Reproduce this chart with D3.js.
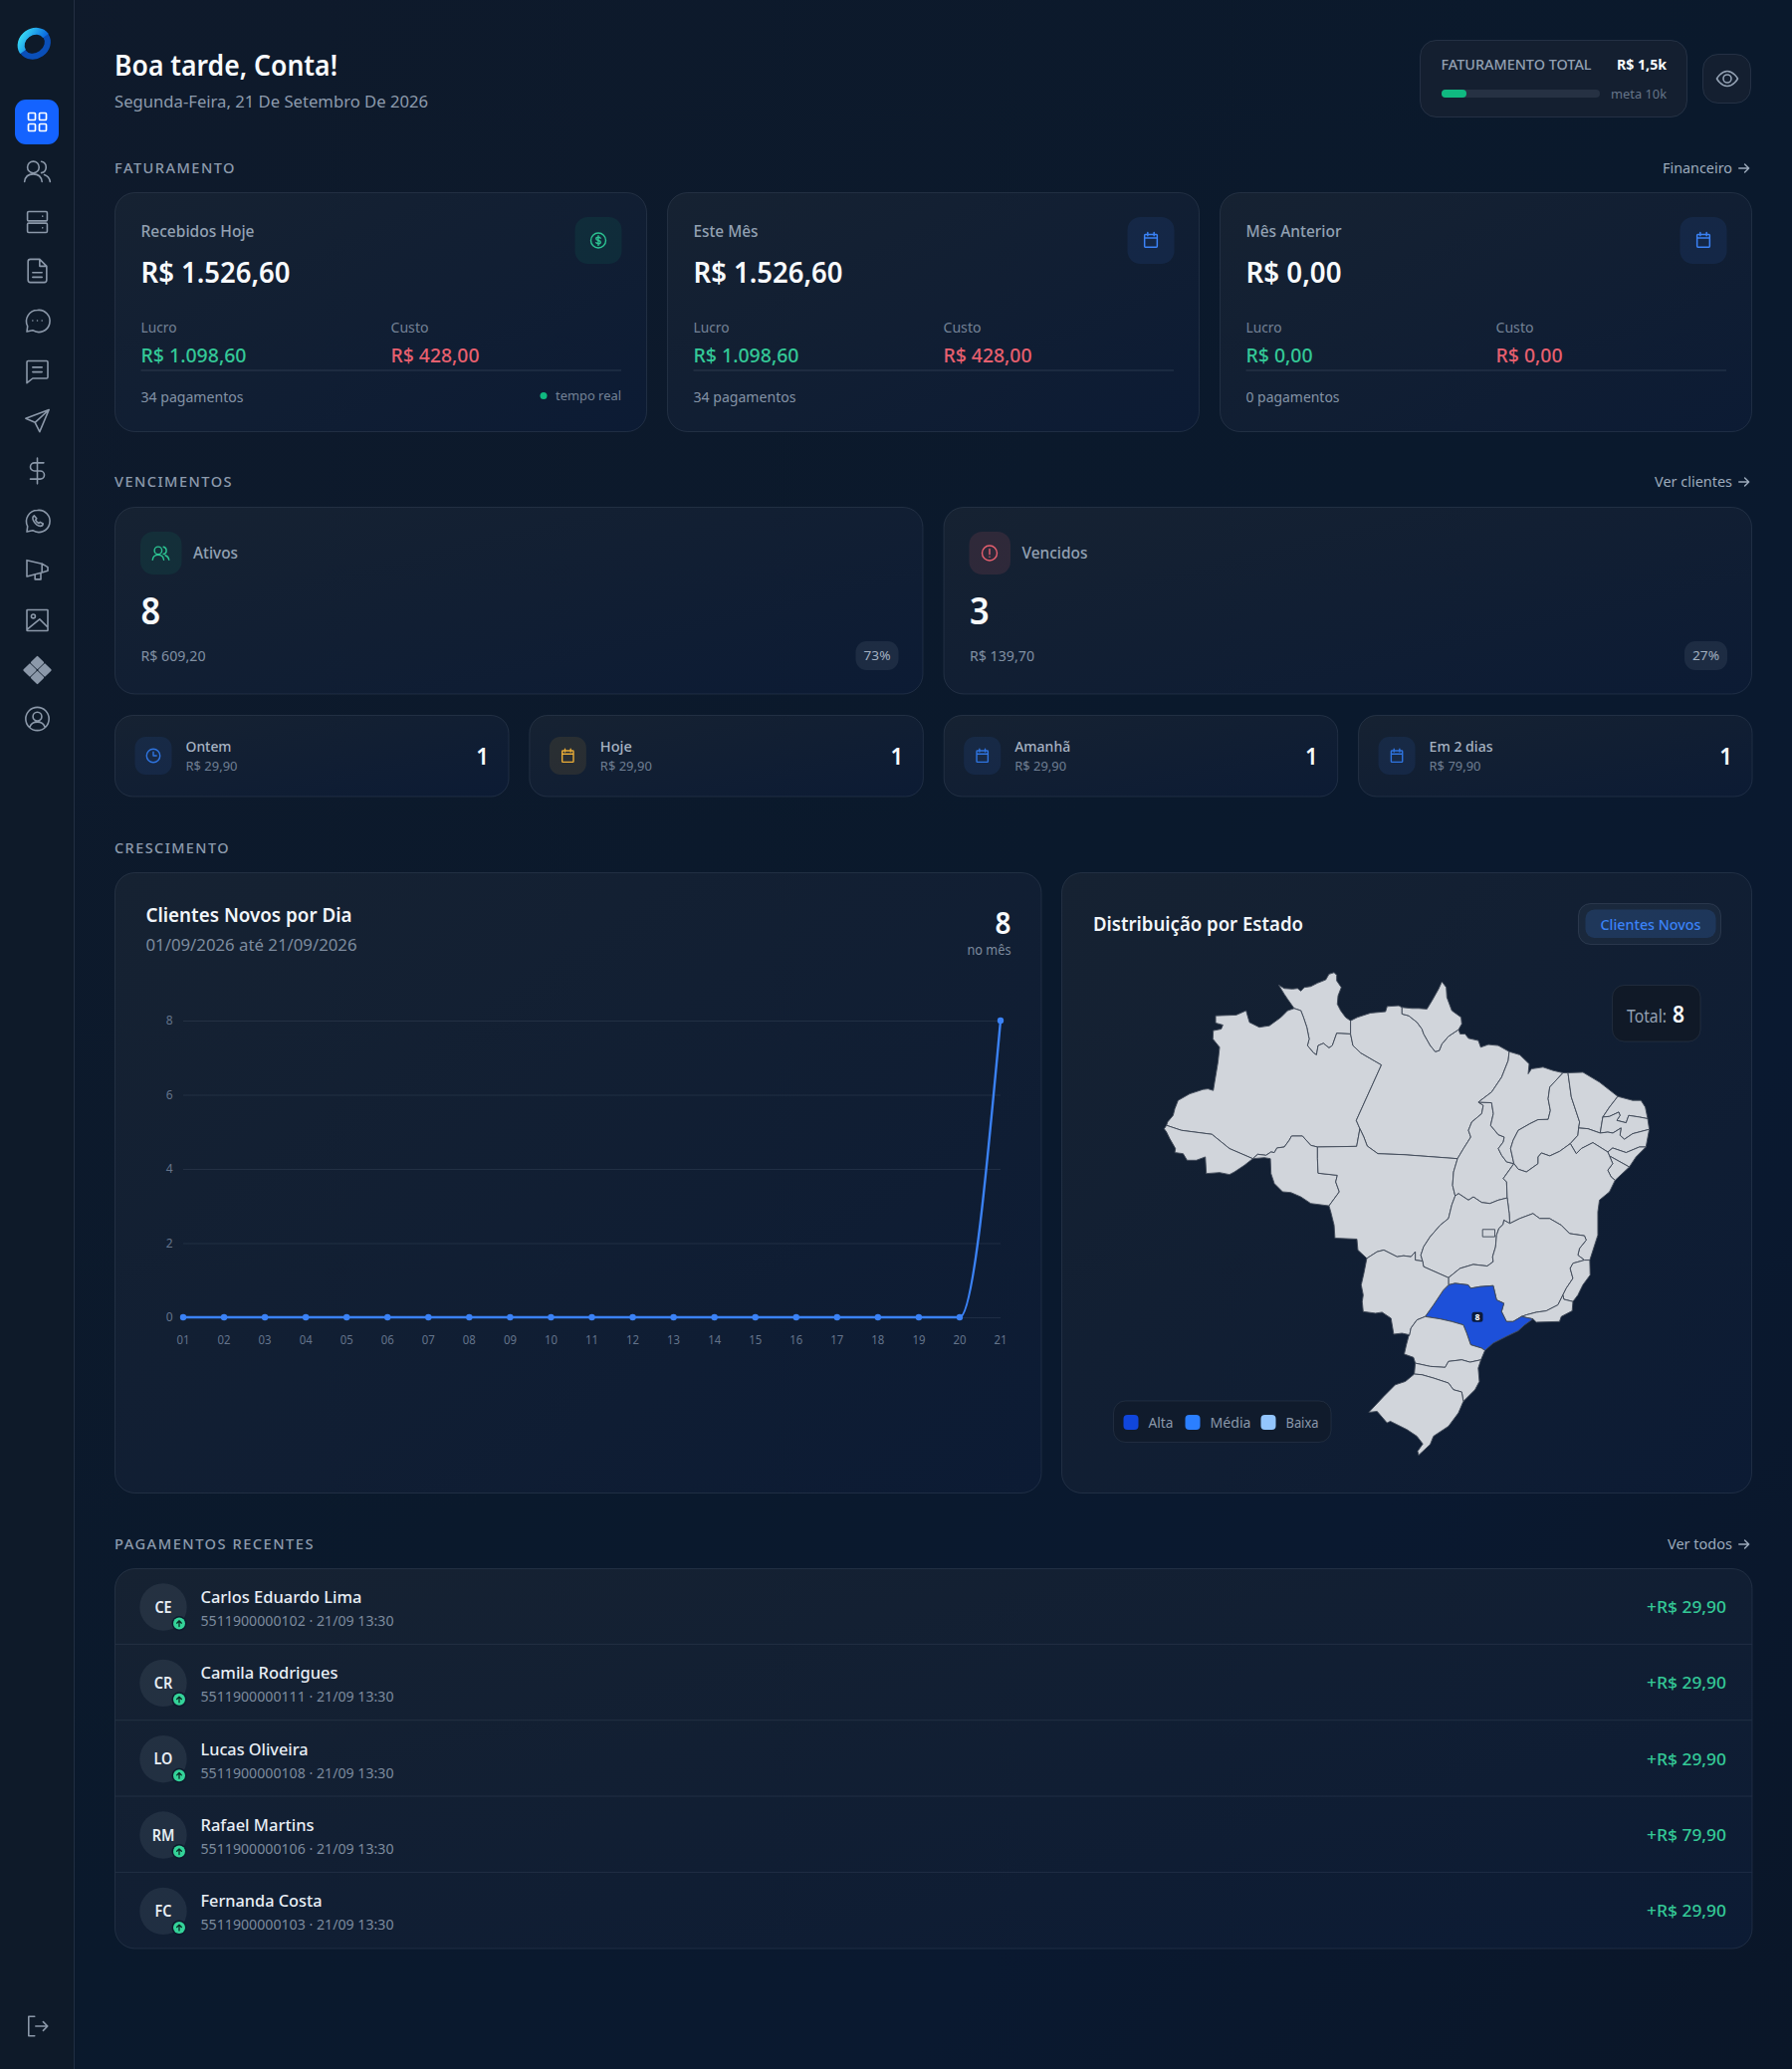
<!DOCTYPE html>
<html lang="pt-BR">
<head>
<meta charset="utf-8">
<title>Dashboard</title>
<script src="https://cdn.jsdelivr.net/npm/d3@7"></script>
<style>
  html, body { margin: 0; padding: 0; background: #0b182b; }
  svg { display: block; }
  text { font-family: "Noto Sans", "Open Sans", sans-serif; }
</style>
</head>
<body>
<svg id="canvas" width="1800" height="2078"></svg>
<script>
// ---- chart data ----
const days = ['01','02','03','04','05','06','07','08','09','10','11','12','13','14','15','16','17','18','19','20','21'];
const newClients = [0,0,0,0,0,0,0,0,0,0,0,0,0,0,0,0,0,0,0,0,8];
const yTicks = [0,2,4,6,8];

const stateClients = {SP: 8};
const legendLabels = ['Alta','Média','Baixa'];
const legendColors = ['#1046dc','#2b7fff','#93c5fd'];

const revenueTitles = ['Recebidos Hoje','Este Mês','Mês Anterior'];
const revenueTotals = ['R$ 1.526,60','R$ 1.526,60','R$ 0,00'];
const revenueProfit = ['R$ 1.098,60','R$ 1.098,60','R$ 0,00'];
const revenueCost = ['R$ 428,00','R$ 428,00','R$ 0,00'];
const revenueCounts = ['34 pagamentos','34 pagamentos','0 pagamentos'];

const dueNames = ['Ontem','Hoje','Amanhã','Em 2 dias'];
const dueValues = ['R$ 29,90','R$ 29,90','R$ 29,90','R$ 79,90'];
const dueCounts = [1,1,1,1];

const payNames = ['Carlos Eduardo Lima','Camila Rodrigues','Lucas Oliveira','Rafael Martins','Fernanda Costa'];
const payInitials = ['CE','CR','LO','RM','FC'];
const payPhones = ['5511900000102','5511900000111','5511900000108','5511900000106','5511900000103'];
const payAmounts = ['+R$ 29,90','+R$ 29,90','+R$ 29,90','+R$ 79,90','+R$ 29,90'];

// state borders as shared arcs, [lon, lat]
const arcs = {
  rrNorth: [[-64.73,4.23],[-64.28,3.96],[-63.61,3.91],[-63.21,3.96],[-62.94,3.75],[-62.67,4.04],[-62.14,4.12],[-61.6,4.39],[-60.93,4.66],[-60.67,5.11],[-60.26,5.24],[-60.05,5.03],[-60.05,4.58],[-59.68,4.04],[-59.94,3.37],[-60,2.7],[-59.73,2.17],[-59.33,1.63],[-58.93,1.36]],
  rrPa: [[-58.93,1.36],[-58.93,0.29]],
  rrAm: [[-58.93,0.29],[-60.05,0.35],[-60.4,-0.64],[-60.67,-0.83],[-61.12,-0.46],[-61.55,-0.64],[-61.68,-1.39],[-61.92,-1.23],[-62.41,-0.64],[-62.27,-0.11],[-62.46,0.83],[-62.73,1.63],[-62.94,2.17],[-63.48,2.35]],
  rrWest: [[-63.48,2.35],[-64.01,3.1],[-64.28,3.5],[-64.73,4.23]],
  amNorth: [[-63.48,2.35],[-64.01,2.17],[-64.55,1.63],[-65.48,0.96],[-66.29,0.83],[-66.69,1.03],[-67.09,1.23],[-67.36,2.17],[-68.16,1.82],[-69.82,1.76],[-69.82,1.18],[-69.23,1.01],[-69.37,0.69],[-70.01,0.56],[-70.04,-0.11],[-69.5,-0.78],[-69.63,-1.98],[-69.9,-3.59],[-70.01,-4.26],[-70.44,-4.13],[-70.84,-4.18],[-71.91,-4.53],[-72.85,-5.06],[-73.11,-5.73],[-73.25,-6.27],[-73.7,-6.8],[-73.78,-7.07]],
  amAc: [[-73.78,-7.07],[-72.58,-7.47],[-70.12,-7.79],[-68.7,-8.94],[-66.82,-9.75]],
  amRo: [[-66.82,-9.75],[-66.42,-9.4],[-65.75,-9.48],[-65.35,-9.21],[-65.08,-9.26],[-64.87,-8.89],[-64.28,-8.81],[-63.88,-8.27],[-63.69,-7.93],[-62.81,-7.93],[-62.14,-8.68],[-61.6,-8.81]],
  amMt: [[-61.6,-8.81],[-58.44,-8.76],[-58.18,-7.34]],
  amPa: [[-58.18,-7.34],[-58.47,-6.67],[-56.44,-2.2],[-57.05,-1.85],[-58.12,-1.23],[-58.74,-0.64],[-58.93,0.29]],
  acSouth: [[-66.82,-9.75],[-67.49,-10.28],[-68.3,-10.82],[-68.7,-11.03],[-69.5,-10.87],[-70.57,-10.95],[-70.65,-9.61],[-71.37,-9.88],[-72.12,-9.88],[-72.44,-9.35],[-73.11,-9.26],[-73.06,-8.94],[-73.52,-8.14],[-73.78,-7.61],[-73.97,-7.34],[-73.78,-7.07]],
  roSouth: [[-66.82,-9.75],[-65.89,-9.67],[-65.4,-9.75],[-65.35,-10.95],[-65.08,-11.75],[-64.41,-12.42],[-63.74,-12.48],[-62.94,-12.83],[-62.14,-13.36],[-60.67,-13.55]],
  roMt: [[-60.67,-13.55],[-59.84,-12.42],[-60.13,-11.62],[-60,-11.09],[-61.55,-10.92],[-61.6,-9.75],[-61.6,-8.81]],
  mtPa: [[-58.18,-7.34],[-57.86,-8.01],[-57.59,-8.73],[-56.73,-9.35],[-54.64,-9.43],[-50.3,-9.75]],
  mtTo: [[-50.3,-9.75],[-50.62,-10.82],[-50.7,-11.89],[-50.49,-12.75]],
  mtGo: [[-50.49,-12.75],[-50.77,-13.5],[-51.03,-14.57],[-51.7,-15.11],[-52.51,-16.04],[-53.04,-16.85],[-53.26,-17.52],[-53.12,-18]],
  mtWest: [[-60.67,-13.55],[-60.53,-14.03],[-60.26,-15.1],[-60.19,-16.15],[-58.42,-16.23],[-58.34,-17.11],[-57.62,-17.78]],
  mtMs: [[-57.62,-17.78],[-56.79,-17.25],[-56.25,-17.11],[-55.18,-17.65],[-54.65,-17.57],[-54.06,-17.65],[-53.71,-17.25],[-53.71,-17.92],[-53.12,-18]],
  msGo: [[-53.12,-18],[-53.04,-18.45],[-51.03,-19.34]],
  msMg: [[-51.03,-19.34],[-51.03,-19.92]],
  msSp: [[-51.03,-19.92],[-51.44,-20.33],[-52.24,-21.53],[-52.91,-22.47]],
  msPr: [[-52.91,-22.47],[-53.58,-22.74],[-54.06,-23.4],[-54.17,-23.94]],
  msSouth: [[-54.17,-23.94],[-54.78,-23.81],[-55.45,-23.89],[-55.67,-22.6],[-56.39,-22.12],[-56.92,-22.2],[-57.91,-22.07],[-57.99,-21.26],[-57.91,-20.73],[-58.07,-19.92],[-57.86,-18.99],[-57.62,-17.78]],
  spMg: [[-51.03,-19.92],[-50.5,-19.79],[-49.43,-19.92],[-49.24,-20.19],[-48.49,-20.06],[-47.42,-19.98],[-47.15,-21.13],[-46.56,-21.4],[-46.75,-22.07],[-46.35,-22.87],[-45.81,-22.87],[-45.14,-22.47]],
  spRj: [[-45.14,-22.47],[-44.21,-22.66]],
  spCoast: [[-44.21,-22.66],[-44.88,-23.14],[-45.41,-23.62],[-46.35,-24.07],[-47.42,-24.61],[-48.09,-25.2]],
  spPr: [[-48.09,-25.2],[-48.36,-25.01],[-49.24,-24.74],[-49.56,-23.81],[-49.83,-23.14],[-50.77,-22.87],[-51.7,-22.66],[-52.91,-22.47]],
  prCoast: [[-48.09,-25.2],[-48.41,-25.95]],
  prSc: [[-48.41,-25.95],[-49.29,-26.14],[-49.96,-25.95],[-51.03,-26.08],[-51.3,-26.56],[-52.51,-26.48],[-53.71,-26.22]],
  prWest: [[-53.71,-26.22],[-53.85,-25.76],[-54.6,-25.49],[-54.43,-24.74],[-54.25,-24.07],[-54.17,-23.94]],
  scCoast: [[-48.41,-25.95],[-48.63,-26.62],[-48.54,-27.69],[-48.89,-28.36],[-49.83,-29.29]],
  scRs: [[-49.83,-29.29],[-49.96,-28.54],[-50.63,-28.36],[-51.03,-27.82],[-52.24,-27.42],[-53.18,-27.15],[-53.79,-27.1]],
  scWest: [[-53.79,-27.1],[-53.71,-26.22]],
  rsCoast: [[-49.83,-29.29],[-50.23,-30.23],[-51.03,-31.3],[-52.24,-32.1],[-52.51,-32.77],[-53.44,-33.63],[-53.52,-33.31],[-53.1,-32.72],[-53.58,-32.1],[-54.38,-31.57],[-55.72,-30.9],[-55.99,-31.03],[-56.79,-30.1],[-57.46,-30.18],[-56.25,-28.89],[-55.32,-27.96],[-54.51,-27.69],[-53.79,-27.1]],
  goMg: [[-51.03,-19.34],[-50.1,-18.59],[-49.03,-18.27],[-47.9,-18.4],[-47.42,-18.05],[-47.47,-17.65],[-47.23,-16.85],[-47.15,-15.91],[-46.96,-15.37],[-46.62,-15.05],[-46.56,-14.7],[-46.08,-14.97]],
  baGo: [[-46.29,-12.91],[-46.13,-14.16],[-46.08,-14.97]],
  mgBa: [[-46.08,-14.97],[-45.28,-14.57],[-44.21,-14.17],[-43.67,-14.57],[-42.87,-14.57],[-41.93,-15.11],[-41.26,-15.78],[-40.06,-15.96],[-39.92,-16.31],[-40.46,-16.98],[-40.59,-17.52],[-40.06,-17.92]],
  baEs: [[-40.06,-17.92],[-39.63,-17.92]],
  mgEs: [[-40.06,-17.92],[-40.99,-18.18],[-41.21,-18.59],[-40.99,-19.39],[-41.53,-20.19],[-41.8,-20.73]],
  mgRj: [[-41.8,-20.73],[-42.2,-21.53],[-43.14,-22.01],[-43.94,-22.12],[-44.74,-22.33],[-45.14,-22.47]],
  esRj: [[-41.8,-20.73],[-41.72,-21.08],[-40.99,-21.26]],
  rjCoast: [[-40.99,-21.26],[-41.05,-22.01],[-41.93,-22.47],[-42.07,-22.87],[-43.94,-22.92],[-44.21,-22.66]],
  esCoast: [[-39.63,-17.92],[-39.6,-19.12],[-40.19,-19.92],[-40.59,-20.73],[-40.99,-21.26]],
  goTo: [[-50.49,-12.75],[-50.22,-12.56],[-49.42,-13.09],[-49.02,-12.83],[-48.35,-13.28],[-47.68,-13.36],[-47.01,-13.09],[-46.29,-12.91]],
  apBorder: [[-54.78,2.43],[-54.78,1.9],[-54.24,1.76],[-53.57,1.23],[-53.17,0.69],[-53.03,0.29],[-52.5,-0.64],[-52.1,-1.13],[-51.78,-1.05],[-51.56,-0.51],[-51.03,0.1],[-50.22,0.64]],
  apCoast: [[-50.22,0.64],[-49.96,1.1],[-50.01,1.63],[-50.76,2.17],[-51.16,3.24],[-51.21,4.04],[-51.56,4.5],[-51.83,3.91],[-52.36,2.97],[-52.77,2.3],[-53.44,2.35],[-53.97,2.35],[-54.78,2.43]],
  paNorth: [[-58.93,1.36],[-58.39,1.63],[-57.32,1.98],[-56.11,2.09],[-55.98,2.51],[-55.04,2.57],[-54.78,2.43]],
  paCoast: [[-50.22,0.64],[-50.09,0.29],[-49.69,0.29],[-49.42,-0.06],[-48.62,-0.24],[-48.43,-0.78],[-47.81,-0.56],[-47.01,-0.64],[-46.13,-1.13]],
  paMa: [[-46.13,-1.13],[-46.21,-1.85],[-46.74,-3.19],[-47.55,-4.39],[-48.62,-5.2]],
  paTo: [[-48.62,-5.2],[-48.22,-5.46],[-48.35,-6.13],[-49.15,-6.8],[-49.42,-7.47],[-49.23,-8.01],[-49.82,-8.94],[-50.3,-9.75]],
  maTo: [[-48.62,-5.2],[-47.55,-5.25],[-47.41,-6.13],[-47.63,-7.07],[-47.01,-7.82],[-46.53,-8.01],[-46.61,-8.41],[-47.01,-8.94],[-46.74,-9.48],[-46.34,-10.01],[-45.75,-10.15]],
  toBa: [[-45.75,-10.15],[-46.61,-11.35],[-46.34,-11.62],[-46.29,-12.91]],
  maCoast: [[-46.13,-1.13],[-45.27,-1.39],[-44.52,-2.12],[-44.6,-2.92],[-44.33,-2.52],[-43.4,-2.38],[-42.59,-2.65],[-41.79,-2.84]],
  maPi: [[-41.79,-2.84],[-42.86,-3.99],[-42.99,-4.93],[-42.81,-5.87],[-42.99,-6.59],[-43.8,-6.61],[-44.47,-6.94],[-45.4,-7.47],[-45.81,-8.27],[-46.02,-8.94],[-45.75,-10.15]],
  piCoast: [[-41.79,-2.84],[-41.39,-2.84]],
  piCe: [[-41.39,-2.84],[-41.25,-3.86],[-41.12,-4.79],[-40.85,-5.6],[-40.45,-6.8],[-40.53,-7.28]],
  piPe: [[-40.53,-7.28],[-40.59,-7.87],[-41.2,-8.54]],
  piBa: [[-41.2,-8.54],[-42.06,-9.16],[-42.86,-9.53],[-43.53,-9.29],[-43.8,-9.61],[-43.8,-10.15],[-44.74,-10.82],[-45.4,-10.6],[-45.75,-10.15]],
  ceCoast: [[-41.39,-2.84],[-40.18,-2.79],[-38.85,-3.59],[-37.37,-4.74]],
  ceRn: [[-37.37,-4.74],[-38.04,-5.6],[-38.58,-6.4]],
  cePb: [[-38.58,-6.4],[-38.79,-7.69]],
  cePe: [[-40.53,-7.28],[-39.78,-7.34],[-38.79,-7.69]],
  rnCoast: [[-37.37,-4.74],[-36.17,-5.06],[-35.5,-5.06],[-35.15,-5.6],[-34.96,-6.53]],
  rnPb: [[-38.58,-6.4],[-38.04,-6.35],[-37.29,-6],[-37.19,-6.27],[-37.45,-6.67],[-36.7,-6.86],[-36.49,-6.27],[-35.63,-6.4],[-34.96,-6.53]],
  pbCoast: [[-34.96,-6.53],[-34.83,-7.39]],
  pbPe: [[-38.79,-7.69],[-38.18,-7.61],[-37.77,-7.69],[-37.11,-7.28],[-37.19,-7.87],[-36.84,-8.19],[-36.17,-7.74],[-34.83,-7.39]],
  peCoast: [[-34.83,-7.39],[-35.1,-8.81]],
  peAl: [[-38.18,-9.21],[-37.78,-8.89],[-36.7,-9.26],[-35.63,-8.81],[-35.1,-8.81]],
  peBa: [[-41.2,-8.54],[-40.72,-9.35],[-40.32,-8.94],[-39.38,-8.46],[-38.18,-9.21]],
  alBa: [[-38.18,-9.21],[-38.04,-9.53]],
  alSe: [[-38.04,-9.53],[-36.44,-10.42]],
  alCoast: [[-36.44,-10.42],[-35.9,-9.61],[-35.1,-8.81]],
  seBa: [[-38.04,-9.53],[-37.78,-10.15],[-38.18,-10.68],[-37.91,-11.22],[-37.59,-11.49]],
  seCoast: [[-37.59,-11.49],[-36.44,-10.42]],
  baCoast: [[-37.59,-11.49],[-38.04,-12.42],[-38.85,-13.09],[-38.98,-14.03],[-38.98,-15.9],[-39.63,-17.92]],
  dfBox: [[-48.28,-15.45],[-47.29,-15.45],[-47.29,-16.04],[-48.28,-16.04],[-48.28,-15.45]]
};

// '-' in front of an arc name walks it backwards
const stateArcs = {
  RR: ['rrNorth','rrPa','rrAm','rrWest'],
  AM: ['amNorth','amAc','amRo','amMt','amPa','rrAm'],
  AC: ['amAc','acSouth'],
  RO: ['roSouth','roMt','-amRo'],
  PA: ['paNorth','apBorder','paCoast','paMa','paTo','-mtPa','amPa','-rrPa'],
  AP: ['apBorder','apCoast'],
  MT: ['amMt','mtPa','mtTo','mtGo','-mtMs','-mtWest','roMt'],
  TO: ['maTo','toBa','-goTo','-mtTo','-paTo'],
  MA: ['maCoast','maPi','-maTo','-paMa'],
  PI: ['piCoast','piCe','piPe','piBa','-maPi'],
  CE: ['ceCoast','ceRn','cePb','-cePe','-piCe'],
  RN: ['rnCoast','-rnPb','-ceRn'],
  PB: ['rnPb','pbCoast','-pbPe','-cePb'],
  PE: ['cePe','pbPe','peCoast','-peAl','-peBa','-piPe'],
  AL: ['peAl','-alCoast','-alSe','-alBa'],
  SE: ['alSe','-seCoast','-seBa'],
  BA: ['toBa','baGo','mgBa','baEs','-baCoast','-seBa','-alBa','-peBa','piBa'],
  GO: ['goTo','baGo','-goMg','-msGo','-mtGo'],
  DF: ['dfBox'],
  MG: ['goMg','mgBa','mgEs','mgRj','-spMg','-msMg'],
  ES: ['baEs','esCoast','-esRj','-mgEs'],
  RJ: ['esRj','rjCoast','-spRj','-mgRj'],
  SP: ['spMg','spRj','spCoast','spPr','-msSp'],
  MS: ['mtMs','msGo','msMg','msSp','msPr','msSouth'],
  PR: ['-msPr','-spPr','prCoast','prSc','prWest'],
  SC: ['prSc','-scWest','-scRs','-scCoast'],
  RS: ['rsCoast','-scRs']
};

// ---- icons, 24x24 ----
const ring = (cx, cy, r) => `M${cx-r} ${cy}a${r} ${r} 0 1 0 ${2*r} 0a${r} ${r} 0 1 0 ${-2*r} 0z`;
const icons = {
  grid: 'M4 3h5a1 1 0 0 1 1 1v5a1 1 0 0 1-1 1H4a1 1 0 0 1-1-1V4a1 1 0 0 1 1-1z M15 3h5a1 1 0 0 1 1 1v5a1 1 0 0 1-1 1h-5a1 1 0 0 1-1-1V4a1 1 0 0 1 1-1z M4 14h5a1 1 0 0 1 1 1v5a1 1 0 0 1-1 1H4a1 1 0 0 1-1-1v-5a1 1 0 0 1 1-1z M15 14h5a1 1 0 0 1 1 1v5a1 1 0 0 1-1 1h-5a1 1 0 0 1-1-1v-5a1 1 0 0 1 1-1z',
  users: ring(8.5,8.5,5) + ' M1 21c.5-4 3.300-6.500 7.500-6.500s7 2.500 7.500 6.500 M15.500 3.600a5 5 0 0 1 0 9.800 M18 15c2.800.9 4.500 3 5 6',
  server: 'M4.5 3h15a1 1 0 0 1 1 1v6a1 1 0 0 1-1 1h-15a1 1 0 0 1-1-1V4a1 1 0 0 1 1-1z M4.5 13h15a1 1 0 0 1 1 1v6a1 1 0 0 1-1 1h-15a1 1 0 0 1-1-1v-6a1 1 0 0 1 1-1z M16.5 7h.01 M16.5 17h.01',
  file: 'M14 2H6a2 2 0 0 0-2 2v16a2 2 0 0 0 2 2h12a2 2 0 0 0 2-2V8z M14 2v6h6 M8 13.5h8 M8 17.5h8',
  chat: 'M12 3a9.5 9.5 0 0 0-8.4 13.8L3 21.5l5-1.2A9.5 9.5 0 1 0 12 3z M8 12h.01 M12 12h.01 M16 12h.01',
  note: 'M4 3h16a1 1 0 0 1 1 1v13a1 1 0 0 1-1 1H8l-5 4V4a1 1 0 0 1 1-1z M8 8.5h8 M8 12.5h8',
  send: 'M22 3L2 10.5l8 3.5 4 8z M10 14L22 3',
  dollar: 'M12 1v22 M17.5 5H9.5a3.5 3.5 0 0 0 0 7h5a3.5 3.5 0 0 1 0 7H6',
  whats: 'M12 3a9.5 9.5 0 0 0-8.4 13.8L3 21.5l5-1.2A9.5 9.5 0 1 0 12 3z M9.2 7.6c-1.4.8-1.6 2.6-.2 5 1.4 2.3 3.4 3.9 5.6 4 1.3 0 2.2-.9 2.3-2.1l-2.5-1.3-1.2 1c-1.1-.5-2.2-1.7-2.8-2.9l1-1.2z',
  horn: 'M3 4l13 3 5 3v3l-5 1.5L3 18z M16 7v7.5 M10 16.5v4h5v-5.5',
  image: 'M3.5 3h17a.5.5 0 0 1 .5.5v17a.5.5 0 0 1-.5.5h-17a.5.5 0 0 1-.5-.5v-17a.5.5 0 0 1 .5-.5z ' + ring(8.5,8.5,1.7) + ' M3 20l11-9 7 7',
  user: ring(12,12,10) + ' ' + ring(12,10,3.8) + ' M5.5 19c1-3 3.6-4.3 6.5-4.3s5.500 1.300 6.500 4.300',
  logout: 'M9 3H3.500v18H9 M10 12h11 M17 8l4 4-4 4',
  calendar: 'M5 5h14a1 1 0 0 1 1 1v14a1 1 0 0 1-1 1H5a1 1 0 0 1-1-1V6a1 1 0 0 1 1-1z M4 9.500h16 M8 2.500v4 M16 2.500v4',
  clock: ring(12,12,9.5) + ' M12 6.500V12h4.500',
  alert: ring(12,12,10) + ' M12 6.500v7 M12 17h.01',
  coin: ring(12,12,10) + ' M15 9c-.5-.9-1.500-1.400-3-1.400-2 0-3 .9-3 2.100s1 2 3 2.300 3 1 3 2.200-1 2.100-3 2.100c-1.500 0-2.500-.5-3-1.400 M12 5.500v13',
  eye: 'M1.500 12s4-7.500 10.500-7.500S22.500 12 22.500 12s-4 7.500-10.500 7.500S1.500 12 1.500 12z ' + ring(12,12,4),
  arrow: 'M3 12h17 M13 5l7 7-7 7'
};
const navIcons = ['users','server','file','chat','note','send','dollar','whats','horn','image','pix','user'];
const navY = [172,223,272,322,373,422,473,523,572,623,673,722];

// ---- colours ----
const white = '#f8fafc', muted = '#93a1b3', dim = '#748296';
const green = '#34c997', red = '#e8606f', blue = '#3b82f6', amber = '#e9ac37';

const svg = d3.select('#canvas');
const defs = svg.append('defs');

const gradient = (id, x2, y2, stops) => {
  const g = defs.append('linearGradient').attr('id', id).attr('x1', 0).attr('y1', 0).attr('x2', x2).attr('y2', y2);
  stops.forEach(s => g.append('stop').attr('offset', s[0]).attr('stop-color', s[1]));
};
gradient('bg', 1, 1, [[0,'#0f1a2b'],[0.5,'#0a192c'],[0.75,'#0a1930'],[1,'#0a1628']]);
gradient('card', 1, 1, [[0,'#162232'],[1,'#0c1b34']]);
gradient('logoA', 1, 1, [[0,'#38dcf5'],[1,'#0a6ae0']]);

// text helper, w forces the measured width
const txt = (parent, str, x, y, o = {}) => {
  const t = parent.append('text').text(str)
    .attr('x', x).attr('y', y)
    .attr('font-size', o.size || 14)
    .attr('font-weight', o.weight || 400)
    .attr('fill', o.fill || muted)
    .attr('text-anchor', o.anchor || 'start');
  if (o.ls) t.attr('letter-spacing', o.ls);
  const width = o.w || t.node().getComputedTextLength() * 0.93;
  t.attr('textLength', width).attr('lengthAdjust', 'spacingAndGlyphs');
  return t;
};

const box = (parent, x, y, w, h, r, fill, stroke) => parent.append('rect')
  .attr('x', x).attr('y', y).attr('width', w).attr('height', h).attr('rx', r)
  .attr('fill', fill).attr('stroke', stroke || 'none');

const card = (x0, y0, x1, y1, r) => box(svg, x0, y0, x1 - x0, y1 - y0, r || 20, 'url(#card)', 'rgba(148,163,184,.14)');

const icon = (parent, name, cx, cy, size, color, sw) => parent.append('path')
  .attr('d', icons[name])
  .attr('transform', `translate(${cx - size / 2},${cy - size / 2}) scale(${size / 24})`)
  .attr('fill', 'none').attr('stroke', color)
  .attr('stroke-width', (sw || 1.6) * 24 / size)
  .attr('stroke-linecap', 'round').attr('stroke-linejoin', 'round');

const section = (title, y, w, link, linkW) => {
  txt(svg, title, 115, y, {size: 14, weight: 500, fill: '#8d9bad', ls: 1.4, w});
  if (link) {
    txt(svg, link, 1740, y, {size: 14, fill: '#9dabbc', anchor: 'end', w: linkW});
    icon(svg, 'arrow', 1752, y - 5, 14, '#9dabbc', 1.4);
  }
};

// ---- page and sidebar ----
box(svg, 0, 0, 1800, 2078, 0, 'url(#bg)');
box(svg, 0, 0, 74, 2078, 0, '#0e1a29');
svg.append('line').attr('x1', 74.5).attr('x2', 74.5).attr('y1', 0).attr('y2', 2078).attr('stroke', 'rgba(148,163,184,.16)');

const logo = svg.append('g').attr('transform', 'translate(34.5,44) rotate(-35)');
logo.append('ellipse').attr('rx', 14).attr('ry', 12).attr('fill', 'none').attr('stroke', '#0a4fb8').attr('stroke-width', 6);
logo.append('path').attr('d', 'M-14 0A14 12 0 0 1 14 0').attr('fill', 'none').attr('stroke', 'url(#logoA)').attr('stroke-width', 7);

box(svg, 15, 100, 44, 45, 11, '#1463ff');
icon(svg, 'grid', 37.5, 122.5, 24, '#ffffff', 1.7);
navIcons.forEach((name, i) => {
  if (name === 'pix') {
    const g = svg.append('g').attr('transform', `translate(37.5,${navY[i]})`);
    [[0,-7.5],[-7.5,0],[7.5,0],[0,7.5]].forEach(p => g.append('rect')
      .attr('x', -5).attr('y', -5).attr('width', 10).attr('height', 10).attr('rx', 1)
      .attr('transform', `translate(${p[0]},${p[1]}) rotate(45)`).attr('fill', '#8b98a9'));
  } else {
    icon(svg, name, 37.5, navY[i], 28, '#8b98a9', 1.6);
  }
});
icon(svg, 'logout', 38, 2035, 26, '#8b98a9', 1.6);

// ---- header ----
txt(svg, 'Boa tarde, Conta!', 115, 76, {size: 29, weight: 600, fill: white, w: 224});
txt(svg, 'Segunda-Feira, 21 De Setembro De 2026', 115, 107.5, {size: 17, fill: '#8d9bad', w: 315});

box(svg, 1426.5, 40.5, 268, 77, 16, '#141f30', 'rgba(148,163,184,.16)');
txt(svg, 'FATURAMENTO TOTAL', 1447.500, 70, {size: 14, weight: 500, fill: '#93a1b3', w: 151});
txt(svg, 'R$ 1,5k', 1674, 70, {size: 14, weight: 700, fill: white, anchor: 'end', w: 50});
box(svg, 1448, 90, 159, 8, 4, 'rgba(148,163,184,.14)');
box(svg, 1448, 90, 25, 8, 4, '#10b981');
txt(svg, 'meta 10k', 1674, 99, {size: 13, fill: '#667589', anchor: 'end', w: 56});
box(svg, 1710.5, 54.5, 48, 49, 15, '#141f30', 'rgba(148,163,184,.16)');
icon(svg, 'eye', 1735, 79, 24, '#93a1b3', 1.6);

// ---- faturamento ----
section('FATURAMENTO', 174, 122, 'Financeiro', 70);
const titleW = [114, 65, 96], totalW = [150, 150, 96], profitW = [106, 106, 67], costW = [89, 89, 67], countW = [103, 103, 94];
revenueTitles.forEach((title, i) => {
  const dx = i * 555;
  card(115.5 + dx, 193.5, 649.5 + dx, 433.5);
  txt(svg, title, 141.5 + dx, 238, {size: 15.5, weight: 500, fill: muted, w: titleW[i]});
  txt(svg, revenueTotals[i], 141.5 + dx, 283.5, {size: 29, weight: 600, fill: white, w: totalW[i]});
  const tint = i === 0 ? 'rgba(16,185,129,.09)' : 'rgba(59,130,246,.1)';
  box(svg, 577.5 + dx, 218, 47, 47, 13, tint);
  if (i === 0) icon(svg, 'coin', 601 + dx, 241.500, 18, '#2cc392', 1.4);
  else icon(svg, 'calendar', 601 + dx, 241, 19, blue, 1.5);
  txt(svg, 'Lucro', 141.5 + dx, 334, {size: 14, fill: dim, w: 36});
  txt(svg, 'Custo', 392.5 + dx, 334, {size: 14, fill: dim, w: 38});
  txt(svg, revenueProfit[i], 141.5 + dx, 364, {size: 20, weight: 500, fill: green, w: profitW[i]});
  txt(svg, revenueCost[i], 392.5 + dx, 364, {size: 20, weight: 500, fill: red, w: costW[i]});
  svg.append('line').attr('x1', 141.5 + dx).attr('x2', 624 + dx).attr('y1', 372).attr('y2', 372)
    .attr('stroke', 'rgba(148,163,184,.14)').attr('stroke-width', 1.3);
  txt(svg, revenueCounts[i], 141.5 + dx, 403.5, {size: 14.5, fill: '#8493a6', w: countW[i]});
});
svg.append('circle').attr('cx', 546).attr('cy', 397.5).attr('r', 3.5).attr('fill', '#10b981');
txt(svg, 'tempo real', 624, 402, {size: 13, fill: dim, anchor: 'end', w: 66});

// ---- vencimentos ----
section('VENCIMENTOS', 489, 119, 'Ver clientes', 78);
const bigCards = [
  {x: 115.5, x1: 927, label: 'Ativos', labelW: 45, count: 8, value: 'R$ 609,20', pct: '73%', icon: 'users', color: '#2cc392', tint: 'rgba(16,185,129,.09)'},
  {x: 948, x1: 1759.5, label: 'Vencidos', labelW: 66, count: 3, value: 'R$ 139,70', pct: '27%', icon: 'alert', color: red, tint: 'rgba(238,95,114,.12)'}
];
bigCards.forEach(c => {
  card(c.x, 509.5, c.x1, 697);
  box(svg, c.x + 25.5, 534, 41.5, 43, 13, c.tint);
  icon(svg, c.icon, c.x + 46, 555.5, 18, c.color, 1.4);
  txt(svg, c.label, c.x + 78.5, 561, {size: 15.5, weight: 500, fill: muted, w: c.labelW});
  txt(svg, c.count, c.x + 26, 627, {size: 37, weight: 600, fill: white});
  txt(svg, c.value, c.x + 26, 664, {size: 14, fill: '#8190a3', w: 65});
  box(svg, c.x1 - 67.5, 644, 43, 29, 11, 'rgba(148,163,184,.12)');
  txt(svg, c.pct, c.x1 - 46, 663, {size: 13, fill: '#a3b0c0', anchor: 'middle', w: 27});
});

const dueW = [46, 32, 56, 64];
dueNames.forEach((name, i) => {
  const x = 115.5 + i * 416.35;
  const x1 = x + 395.5;
  card(x, 718.5, x1, 800, 18);
  box(svg, x + 20, 740, 37, 38, 11, i === 1 ? 'rgba(233,172,55,.1)' : 'rgba(59,130,246,.1)');
  const color = i === 1 ? amber : '#2f74e0';
  icon(svg, i === 0 ? 'clock' : 'calendar', x + 38.5, 759, 17, color, 1.4);
  txt(svg, name, x + 71, 755, {size: 14.5, weight: 500, fill: '#a7b3c2', w: dueW[i]});
  txt(svg, dueValues[i], x + 71, 774, {size: 13, fill: '#6f7e92', w: 52});
  txt(svg, dueCounts[i], x1 - 20, 768, {size: 24, weight: 600, fill: white, anchor: 'end'});
});

// ---- crescimento: line chart ----
section('CRESCIMENTO', 857, 116);
card(115.5, 876.5, 1046, 1499.5);
txt(svg, 'Clientes Novos por Dia', 146.5, 926, {size: 20, weight: 600, fill: '#f1f5f9', w: 207});
txt(svg, '01/09/2026 até 21/09/2026', 146.5, 955, {size: 17, fill: '#7d8b9e', w: 212});
txt(svg, '8', 1015.5, 938, {size: 30, weight: 600, fill: white, anchor: 'end'});
txt(svg, 'no mês', 1015.5, 959, {size: 13.5, fill: '#7d8b9e', anchor: 'end', w: 44});

const xScale = d3.scalePoint().domain(days).range([184, 1005]);
const yScale = d3.scaleLinear().domain([0, 8]).range([1323, 1025]);

const yAxis = svg.append('g').attr('transform', 'translate(184,0)')
  .call(d3.axisLeft(yScale).tickValues(yTicks).tickSize(-821).tickPadding(10.5));
yAxis.select('.domain').remove();
yAxis.selectAll('line').attr('stroke', 'rgba(148,163,184,.13)');
yAxis.selectAll('text').attr('fill', '#64748b').attr('font-size', 12);

const xAxis = svg.append('g').attr('transform', 'translate(0,1323)')
  .call(d3.axisBottom(xScale).tickSize(0).tickPadding(18));
xAxis.select('.domain').remove();
xAxis.selectAll('text').attr('fill', '#64748b').attr('font-size', 12.5)
  .attr('dx', -0.5)
  .attr('textLength', 13).attr('lengthAdjust', 'spacingAndGlyphs');

const line = d3.line()
  .x((d, i) => xScale(days[i]))
  .y(d => yScale(d))
  .curve(d3.curveMonotoneX);
svg.append('path').datum(newClients).attr('d', line)
  .attr('fill', 'none').attr('stroke', blue).attr('stroke-width', 2.4);
svg.selectAll('.dot').data(newClients).enter().append('circle')
  .attr('class', 'dot')
  .attr('cx', (d, i) => xScale(days[i]))
  .attr('cy', d => yScale(d))
  .attr('r', 3.2)
  .attr('fill', blue);

// ---- crescimento: map ----
card(1066.5, 876.5, 1759.5, 1499.5);
txt(svg, 'Distribuição por Estado', 1098, 935, {size: 20, weight: 600, fill: '#f1f5f9', w: 211});
box(svg, 1585.5, 907.5, 143, 41, 12, 'rgba(148,163,184,.07)', 'rgba(148,163,184,.16)');
box(svg, 1592.5, 913.5, 131, 28.5, 9, 'rgba(59,130,246,.17)');
txt(svg, 'Clientes Novos', 1658, 934, {size: 14.5, weight: 500, fill: blue, anchor: 'middle', w: 101});

const lonScale = d3.scaleLinear().domain([-74, -34.8]).range([1169, 1657]);
const latScale = d3.scaleLinear().domain([5.3, -33.75]).range([976, 1463]);
const mapPath = d3.geoPath(d3.geoTransform({
  point(lon, lat) { this.stream.point(lonScale(lon), latScale(lat)); }
}));
const stitch = names => names.flatMap(n => n[0] === '-' ? arcs[n.slice(1)].slice().reverse() : arcs[n]);
const features = Object.keys(stateArcs).map(id => ({
  type: 'Feature',
  id,
  geometry: {type: 'Polygon', coordinates: [stitch(stateArcs[id])]}
}));
// DF sits on top of GO, so it goes last
features.sort((a, b) => (a.id === 'DF') - (b.id === 'DF'));
svg.append('g').selectAll('path').data(features).enter().append('path')
  .attr('d', mapPath)
  .attr('fill', d => stateClients[d.id] ? '#1d50d9' : '#d1d5db')
  .attr('stroke', '#414b5a')
  .attr('stroke-width', 0.95)
  .attr('stroke-linejoin', 'round');
const spCentre = [-48.7, -22.5];
box(svg, lonScale(spCentre[0]) - 5.5, latScale(spCentre[1]) - 5, 11, 10, 2.5, '#0a1a3c');
txt(svg, stateClients.SP, lonScale(spCentre[0]), latScale(spCentre[1]) + 3, {size: 8.5, weight: 700, fill: '#ffffff', anchor: 'middle', w: 5});

box(svg, 1619.5, 989.5, 88.5, 56.5, 12, '#101927', 'rgba(148,163,184,.12)');
txt(svg, 'Total:', 1634, 1027, {size: 17.5, fill: muted, w: 40});
txt(svg, '8', 1680, 1027, {size: 24, weight: 600, fill: white, w: 12});

box(svg, 1118.5, 1407, 218.5, 41.5, 12, '#101b2c', 'rgba(148,163,184,.12)');
const swatchX = [1128.5, 1190.5, 1266.5];
const labelW = [25, 41, 33];
legendLabels.forEach((label, i) => {
  box(svg, swatchX[i], 1421, 15, 15, 4, legendColors[i]);
  txt(svg, label, swatchX[i] + 25, 1433.5, {size: 14.5, fill: '#8a98aa', w: labelW[i]});
});

// ---- pagamentos recentes ----
section('PAGAMENTOS RECENTES', 1556, 201, 'Ver todos', 65);
card(115.5, 1575.5, 1760, 1957);
const rowH = 76.35;
const nameW = [162, 138, 108, 114, 122];
payNames.forEach((name, i) => {
  const y = 1575 + i * rowH;
  if (i > 0) {
    svg.append('line').attr('x1', 116).attr('x2', 1759.5).attr('y1', y).attr('y2', y)
      .attr('stroke', 'rgba(148,163,184,.13)');
  }
  const cy = y + 39;
  svg.append('circle').attr('cx', 164).attr('cy', cy).attr('r', 23.7).attr('fill', 'rgba(148,163,184,.12)');
  txt(svg, payInitials[i], 164, cy + 5.5, {size: 15.5, weight: 600, fill: '#e8eef5', anchor: 'middle'});
  svg.append('circle').attr('cx', 180).attr('cy', cy + 16.5).attr('r', 7.5).attr('fill', '#0e1a2c');
  svg.append('circle').attr('cx', 180).attr('cy', cy + 16.5).attr('r', 6).attr('fill', '#34d399');
  icon(svg, 'arrow', 180, cy + 16.5, 8, '#0b2a24', 1.3).attr('transform', `rotate(-90,180,${cy + 16.5}) translate(176,${cy + 12.5}) scale(${8 / 24})`);
  txt(svg, name, 201.5, y + 35, {size: 16.5, weight: 500, fill: '#e8eef5', w: nameW[i]});
  txt(svg, payPhones[i] + ' · 21/09 13:30', 201.5, y + 58, {size: 14, fill: '#7d8b9e', w: 194});
  txt(svg, payAmounts[i], 1734, y + 45, {size: 16.5, weight: 500, fill: green, anchor: 'end', w: 80});
});
</script>
</body>
</html>
